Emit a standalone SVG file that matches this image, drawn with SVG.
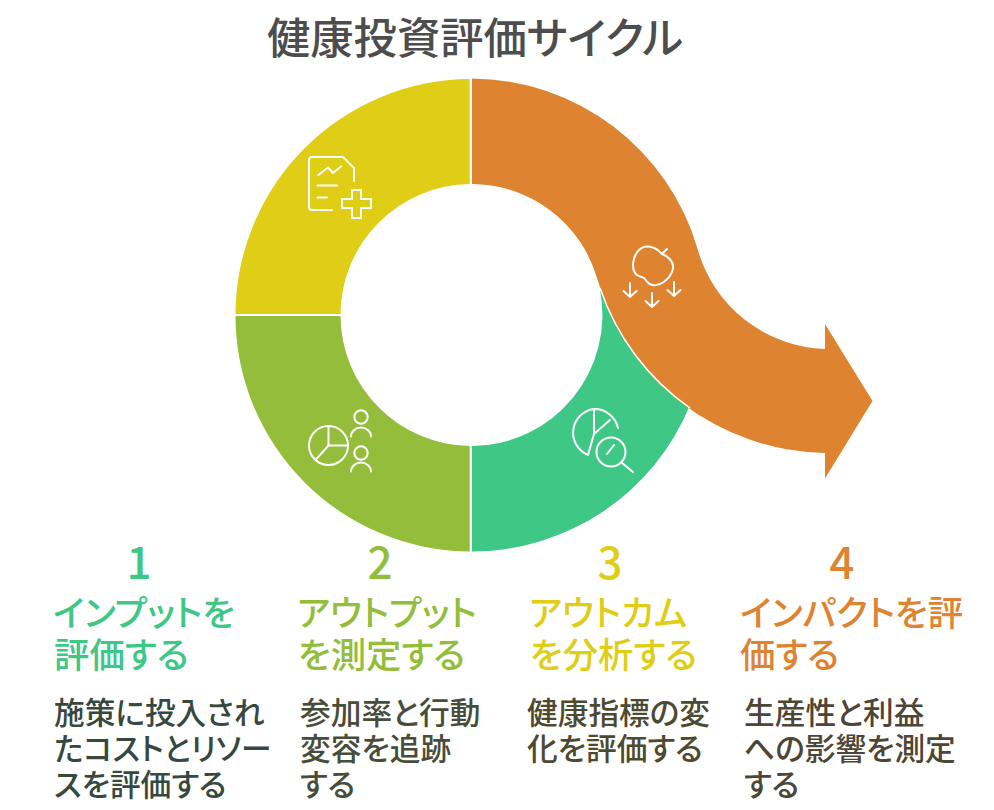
<svg xmlns="http://www.w3.org/2000/svg" width="994" height="810" viewBox="0 0 994 810">
<style>
text{font-family:"Noto Sans CJK JP","Noto Sans",sans-serif;font-feature-settings:"palt"}
.t{font-size:43.3px;font-weight:500;fill:#4d4d4d}
.n{font-size:44px;font-weight:500;text-anchor:middle}
.h{font-size:35.4px;font-weight:500}
.d{font-size:30.7px;font-weight:500}
.i{fill:none;stroke:#fff;stroke-width:2;stroke-linecap:round;stroke-linejoin:round}
</style>
<rect width="994" height="810" fill="#fff"/>
<text class="t" x="267" y="54">健康投資評価サイクル</text>
<g id="connectors">
<path id="seg-green" fill="#3ec785" d="M472 551.500A236 236 0 0 0 690 405L600 290A131 131 0 0 1 472 446Z"/>
<path id="seg-lime" fill="#93bd3a" d="M469.700 551.500A236 236 0 0 1 235.500 316H340.500A131 131 0 0 0 469.700 446Z"/>
<path id="seg-yellow" fill="#e0cd15" d="M469.700 79A236 236 0 0 0 235.500 314H340.500A131 131 0 0 1 469.700 184Z"/>
<path id="seg-orange" fill="#de8431" d="M472 78.500A236.500 236.500 0 0 1 697.600 249A137 137 0 0 0 825 349V324L872.500 401L825 478.500V453A241 241 0 0 1 597 278A131 131 0 0 0 472 184Z"/>
<path fill="none" stroke="#fff" stroke-width="1.500" d="M600 288A241 241 0 0 0 690 408"/>
</g>
<g id="node-1">
<g class="i"><path d="M332 210H312Q309 210 309 207V160Q309 157 312 157H343L354 168V181"/><path d="M318.500 175L328 167.500L333 173L341 166.500M317.500 185.500H337M317.500 197.500H327"/><path d="M352 190H361V199H371V208H361V218H352V208H342V199H352Z"/></g>
<text class="n" x="139" y="579" fill="#3ec785">1</text>
<text class="h" fill="#3ec785"><tspan x="53" y="626">インプットを</tspan><tspan x="54" y="668">評価する</tspan></text>
<text class="d" fill="#37483f"><tspan x="54" y="724">施策に投入され</tspan><tspan x="54" y="760">たコストとリソー</tspan><tspan x="54" y="796">スを評価する</tspan></text>
</g>
<g id="node-2">
<g class="i"><circle cx="328.500" cy="445.500" r="19.500"/><path d="M328.500 426V445.500H348M328.500 445.500L315.500 460"/><circle cx="361" cy="417" r="6.700"/><path d="M351 436.500A10 9 0 0 1 371 436.500"/><circle cx="361" cy="453" r="6.700"/><path d="M351 471.500A10 9 0 0 1 371 471.500"/></g>
<text class="n" x="380" y="579" fill="#93bd3a">2</text>
<text class="h" fill="#93bd3a"><tspan x="297" y="626">アウトプット</tspan><tspan x="298" y="668">を測定する</tspan></text>
<text class="d" fill="#484d3a"><tspan x="300" y="724">参加率と行動</tspan><tspan x="300" y="760">変容を追跡</tspan><tspan x="300" y="796">する</tspan></text>
</g>
<g id="node-3">
<g class="i"><path d="M618 428A24 24 0 0 0 594 409A24 24 0 0 0 588 455L594 434L610 420M594 409V434"/><circle cx="611" cy="452" r="14.500"/><path d="M607 454L614 445M622 463L633 472"/></g>
<text class="n" x="610" y="579" fill="#e0cd15">3</text>
<text class="h" fill="#e0cd15"><tspan x="529" y="626">アウトカム</tspan><tspan x="530" y="668">を分析する</tspan></text>
<text class="d" fill="#4d4a30"><tspan x="527" y="724">健康指標の変</tspan><tspan x="527" y="760">化を評価する</tspan></text>
</g>
<g id="node-4">
<g class="i"><path d="M662 254C655 246 645 244 639 250C632 257 631 270 637 275C641 278 643 276 645 279C648 284 651 286 656 285C664 284 672 276 673 268C674 262 668 256 662 254ZM662 254L667 249"/><path d="M630 283V297M623.500 291L630 297L636.500 291M652 293V307M645.500 301L652 307L658.500 301M674 282V296M667.500 290L674 296L680.500 290"/></g>
<text class="n" x="842" y="579" fill="#de8431">4</text>
<text class="h" fill="#de8431"><tspan x="740" y="626">インパクトを評</tspan><tspan x="740" y="668">価する</tspan></text>
<text class="d" fill="#4d4535"><tspan x="744" y="724">生産性と利益</tspan><tspan x="744" y="760">への影響を測定</tspan><tspan x="744" y="796">する</tspan></text>
</g>
</svg>
